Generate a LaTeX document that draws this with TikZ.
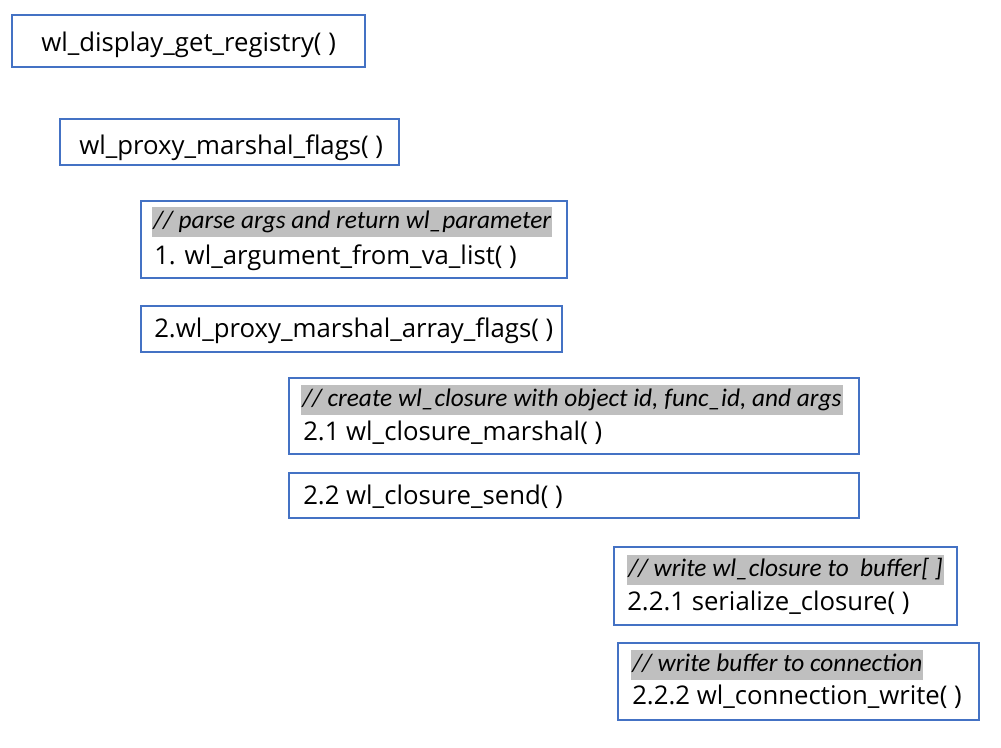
\documentclass[tikz,border=0pt]{standalone}
\usepackage{fontspec}
\setmainfont{Open Sans}
\newfontfamily\cmtfont{Carlito}
\usetikzlibrary{fit}
\definecolor{boxblue}{HTML}{4472C4}
\definecolor{hlgray}{HTML}{BFBFBF}
\begin{document}
\begin{tikzpicture}[x=0.75pt,y=-0.75pt,
  box/.style={draw=boxblue, line width=1.5pt, inner sep=0pt},
  txt/.style={anchor=base west, inner sep=0pt, font=\fontsize{19.3}{22}\selectfont},
  cmt/.style={anchor=base west, inner xsep=0.75pt, inner ysep=0pt, fill=hlgray,
    text height=16.5pt, text depth=6pt, font=\cmtfont\itshape\fontsize{19}{22}\selectfont}]
\useasboundingbox (0,0) rectangle (1001,748);
% boxes
\node[box, fit={(12,15) (365,67)}] (b1) {};
\node[box, fit={(60,119) (399,165)}] (b2) {};
\node[box, fit={(141,201) (567,278)}] (b3) {};
\node[box, fit={(141,306) (562,352)}] (b4) {};
\node[box, fit={(289,378) (859,454)}] (b5) {};
\node[box, fit={(289,473) (859,518)}] (b6) {};
\node[box, fit={(614,547) (957,625)}] (b7) {};
\node[box, fit={(618,643) (979,720)}] (b8) {};
% texts
\node[txt] (t1) at (41,52) {wl\_display\_get\_registry( )};
\node[txt] (t2) at (79,155) {wl\_proxy\_marshal\_flags( )};
\node[cmt] (c3) at (152,229) {// parse args and return wl\_parameter};
\node[txt] (t3) at (154,265) {1. wl\_argument\_from\_va\_list( )};
\node[txt] (t4) at (154,338) {2.wl\_proxy\_marshal\_array\_flags( )};
\node[cmt] (c5) at (301,407) {// create wl\_closure with object id, func\_id, and args};
\node[txt] (t5) at (303,441) {2.1 wl\_closure\_marshal( )};
\node[txt] (t6) at (303,505) {2.2 wl\_closure\_send( )};
\node[cmt] (c7) at (627,577) {// write wl\_closure to\ \ buffer[ ]};
\node[txt] (t7) at (627,611) {2.2.1 serialize\_closure( )};
\node[cmt] (c8) at (631,672) {// write buffer to connection};
\node[txt] (t8) at (632,705) {2.2.2 wl\_connection\_write( )};
\end{tikzpicture}
\end{document}
